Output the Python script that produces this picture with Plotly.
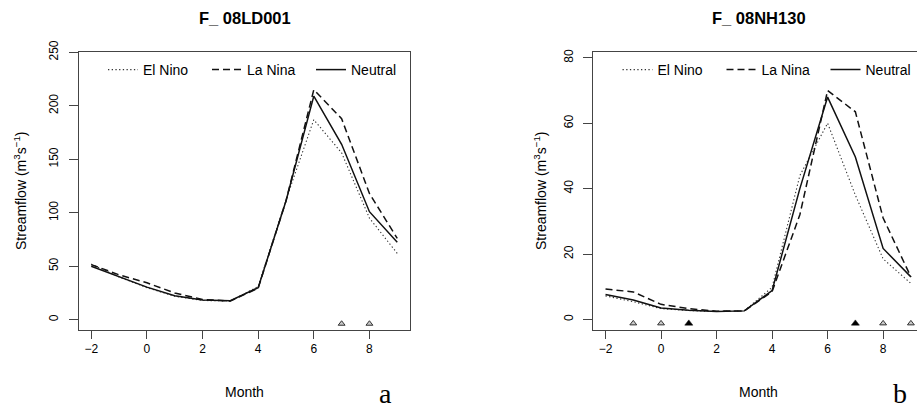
import plotly.graph_objects as go

W, H = 917, 411

months = [-2, -1, 0, 1, 2, 3, 4, 5, 6, 7, 8, 9]

# Panel a: F_ 08LD001
a_elnino = [52, 40, 30, 22, 18, 17.5, 31, 112, 187, 156, 95, 62]
a_lanina = [51.5, 42, 34.5, 25, 19, 17.5, 29.5, 111, 215, 188, 118, 76]
a_neutral = [50, 40.5, 30.5, 22.5, 18.5, 17.8, 30, 111, 209, 164, 101, 72.5]
a_sig_open = [7, 8]
a_sig_filled = []

# Panel b: F_ 08NH130
b_elnino = [7.2, 5.4, 3.3, 2.7, 2.4, 2.6, 9.8, 44, 60, 38, 18.5, 11]
b_lanina = [9.3, 8.4, 4.6, 3.3, 2.5, 2.6, 8.5, 32, 70, 63.5, 31, 13]
b_neutral = [7.6, 5.9, 3.5, 2.8, 2.4, 2.6, 8.8, 40, 68, 49.7, 21.7, 13]
b_sig_open = [-1, 0, 8, 9]
b_sig_filled = [1, 7]

x_ticks = [-2, 0, 2, 4, 6, 8]
a_yticks = [0, 50, 100, 150, 200, 250]
b_yticks = [0, 20, 40, 60, 80]

titles = ["F_ 08LD001", "F_ 08NH130"]
series_names = ["El Nino", "La Nina", "Neutral"]
panel_letters = ["a", "b"]


def px(x):
    return x / W


def py(y):
    return 1 - y / H


a_yrange = [-9.6, 250]
b_yrange = [-3.25, 81.7]

styles = [
    dict(dash="1.3px,2.4px", width=1.1, color="#333"),
    dict(dash="7px,4px", width=1.5, color="#111"),
    dict(dash="solid", width=1.5, color="#111"),
]

fig = go.Figure()

panels = [
    ("x", "y", "legend", [a_elnino, a_lanina, a_neutral], a_sig_open, a_sig_filled, a_yrange),
    ("x2", "y2", "legend2", [b_elnino, b_lanina, b_neutral], b_sig_open, b_sig_filled, b_yrange),
]

for xa, ya, lg, series, sig_o, sig_f, yr in panels:
    for name, vals, st in zip(series_names, series, styles):
        fig.add_trace(go.Scatter(
            x=months, y=vals, mode="lines", name=name,
            line=dict(color=st["color"], width=st["width"], dash=st["dash"]),
            xaxis=xa, yaxis=ya, legend=lg, showlegend=True,
        ))
    ymark = -0.015 * yr[1]
    if sig_o:
        fig.add_trace(go.Scatter(
            x=sig_o, y=[ymark] * len(sig_o), mode="markers",
            marker=dict(symbol="triangle-up", size=6, color="#c8c8c8",
                        line=dict(color="#333", width=1)),
            xaxis=xa, yaxis=ya, showlegend=False, hoverinfo="skip",
        ))
    if sig_f:
        fig.add_trace(go.Scatter(
            x=sig_f, y=[ymark] * len(sig_f), mode="markers",
            marker=dict(symbol="triangle-up", size=7, color="#000",
                        line=dict(color="#000", width=0.5)),
            xaxis=xa, yaxis=ya, showlegend=False, hoverinfo="skip",
        ))

axcol = "#444"
font_fam = "Liberation Sans, Arial, sans-serif"

common_x = dict(
    tickvals=x_ticks, ticks="outside", ticklen=8, tickcolor=axcol,
    showline=True, linecolor=axcol, linewidth=1, showgrid=False, automargin=False,
    zeroline=False, tickfont=dict(size=12, color="#000", family=font_fam),
)
common_y = dict(
    ticks="outside", ticklen=9, tickcolor=axcol, tickangle=-90,
    ticklabelstandoff=6, automargin=False,
    showline=True, linecolor=axcol, linewidth=1, showgrid=False,
    zeroline=False, tickfont=dict(size=12, color="#000", family=font_fam),
)

ydom = [py(330), py(52.3)]

fig.update_layout(
    width=W, height=H, autosize=False,
    margin=dict(l=0, r=0, t=0, b=0, pad=0, autoexpand=False),
    paper_bgcolor="white", plot_bgcolor="white",
    font=dict(family=font_fam, color="#000"),
    xaxis=dict(domain=[px(79), px(409.5)], range=[-2.44, 9.44], mirror=True,
               anchor="y", **common_x),
    yaxis=dict(domain=ydom, range=a_yrange, tickvals=a_yticks, mirror=True,
               anchor="x", **common_y),
    xaxis2=dict(domain=[px(593.3), 1.0], range=[-2.44, 9.22], mirror=True,
                anchor="y2", **common_x),
    yaxis2=dict(domain=ydom, range=b_yrange, tickvals=b_yticks, mirror=False,
                anchor="x2", **common_y),
    legend=dict(orientation="h", x=px(103), y=py(70), xanchor="left", yanchor="middle",
                font=dict(size=14, family=font_fam), bgcolor="rgba(0,0,0,0)",
                entrywidth=59, entrywidthmode="pixels", itemwidth=30),
    legend2=dict(orientation="h", x=px(617.5), y=py(70), xanchor="left", yanchor="middle",
                 font=dict(size=14, family=font_fam), bgcolor="rgba(0,0,0,0)",
                 entrywidth=59, entrywidthmode="pixels", itemwidth=30),
    showlegend=True,
)

ann = []
for title, cx_plot in zip(titles, [244.5, 758.5]):
    ann.append(dict(text="<b>" + title + "</b>", x=px(cx_plot), y=py(17.7),
                    xref="paper", yref="paper", showarrow=False,
                    xanchor="center", yanchor="middle",
                    font=dict(size=16.5, family=font_fam, color="#000")))
    ann.append(dict(text="Month", x=px(cx_plot), y=py(391.5),
                    xref="paper", yref="paper", showarrow=False,
                    xanchor="center", yanchor="middle",
                    font=dict(size=14, family=font_fam, color="#000")))
for ylx in [20, 540]:
    ann.append(dict(text="Streamflow (m<sup>3</sup>s<sup>\u22121</sup>)", x=px(ylx), y=py(191),
                    xref="paper", yref="paper", showarrow=False, textangle=-90,
                    xanchor="center", yanchor="middle",
                    font=dict(size=14, family=font_fam, color="#000")))
for letter, lx in zip(panel_letters, [385, 900]):
    ann.append(dict(text=letter, x=px(lx), y=0, xref="paper", yref="paper",
                    showarrow=False, xanchor="center", yanchor="bottom",
                    font=dict(size=28, family="Liberation Serif, Times New Roman, serif", color="#000")))
fig.update_layout(annotations=ann)

fig.write_html(
    "out.html",
    config={"responsive": False, "displayModeBar": False},
    post_script=(
        "document.documentElement.style.margin='0';"
        "document.documentElement.style.overflow='hidden';"
        "document.body.style.margin='0';"
        "document.body.style.overflow='hidden';"
    ),
)
